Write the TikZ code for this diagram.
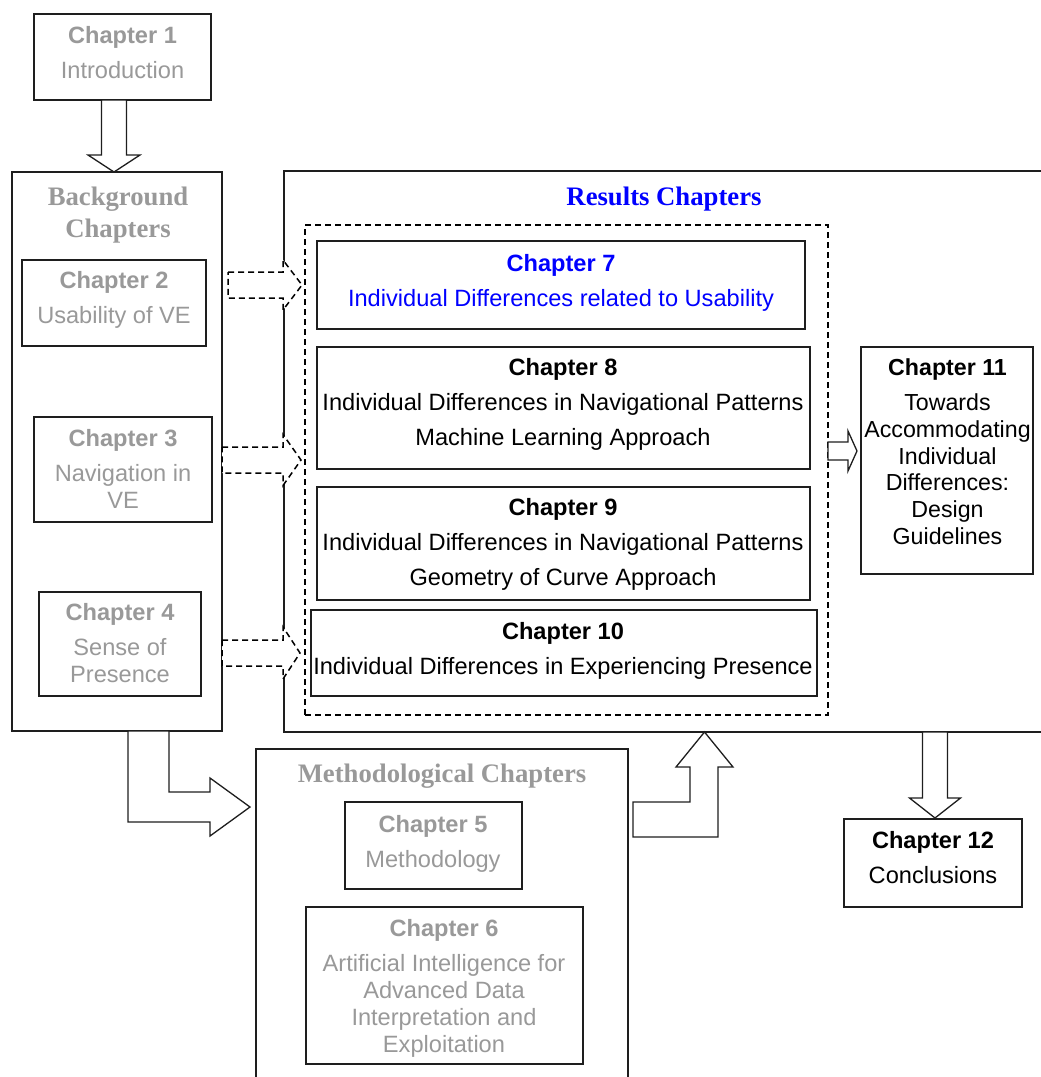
\documentclass[tikz,border=0pt]{standalone}
\usepackage{fontspec}
\setmainfont{Liberation Sans}
\newfontfamily\titlefont{Liberation Serif}
\usetikzlibrary{fit,calc}
\definecolor{fadedtext}{RGB}{153,153,153}
\definecolor{resultblue}{RGB}{0,0,255}
\definecolor{edge}{RGB}{30,30,30}

\begin{document}
\begin{tikzpicture}[x=1pt,y=-1pt,
  box/.style={draw=edge, line width=1.3pt, inner sep=0pt, outer sep=0pt, fill=white},
  dashframe/.style={draw=black, line width=1.5pt, dash pattern=on 6pt off 4pt, inner sep=0pt, outer sep=0pt},
  chtext/.style={anchor=north, inner sep=0pt, align=center, font=\fontsize{23.6}{26.8}\selectfont},
  grouptitle/.style={anchor=north, inner sep=0pt, align=center, font=\titlefont\bfseries\fontsize{26.7}{32}\selectfont},
  blockarrow/.style={draw=edge, line width=1.3pt, fill=white},
  dasharrow/.style={draw=black, line width=1.5pt, fill=white, dash pattern=on 6pt off 4pt},
]
\useasboundingbox (0,0) rectangle (1041,1077);
\clip (0,0) rectangle (1041,1077);

% group frames
\node[box, fit={(12,172) (222,731)}] (bg) {};
\node[box, fit={(284,171) (1060,732)}] (res) {};
\node[box, fit={(256,749) (628,1095)}] (meth) {};
\node[dashframe, fit={(305,225) (828,715)}] (inner) {};

% chapter boxes
\node[box, fit={(34,14) (211,100)}] (ch1) {};
\node[box, fit={(22,260) (206,346)}] (ch2) {};
\node[box, fit={(34,417) (212,522)}] (ch3) {};
\node[box, fit={(39,592) (201,696)}] (ch4) {};
\node[box, fit={(345,802) (522,889)}] (ch5) {};
\node[box, fit={(306,907) (583,1064)}] (ch6) {};
\node[box, fit={(317,241) (805,329)}] (ch7) {};
\node[box, fit={(317,347) (810,469)}] (ch8) {};
\node[box, fit={(317,487) (810,600)}] (ch9) {};
\node[box, fit={(311,610) (817,696)}] (ch10) {};
\node[box, fit={(861,347) (1033,574)}] (ch11) {};
\node[box, fit={(844,819) (1022,907)}] (ch12) {};

% group titles
\node[grouptitle, text=fadedtext] (bgtitle) at (118,186.5) {Background\\Chapters};
\node[grouptitle, text=resultblue] (restitle) at (664,186.5) {Results Chapters};
\node[grouptitle, text=fadedtext] (methtitle) at (442,763.5) {Methodological Chapters};

% chapter texts
\node[chtext, text=fadedtext] (t1) at (122.5,26.6) {\textbf{Chapter 1}\\[8pt]Introduction};
\node[chtext, text=fadedtext] (t2) at (114,271.6) {\textbf{Chapter 2}\\[8pt]Usability of VE};
\node[chtext, text=fadedtext] (t3) at (123,429.6) {\textbf{Chapter 3}\\[8pt]Navigation in\\VE};
\node[chtext, text=fadedtext] (t4) at (120,603.6) {\textbf{Chapter 4}\\[8pt]Sense of\\Presence};
\node[chtext, text=fadedtext] (t5) at (433,815.6) {\textbf{Chapter 5}\\[8pt]Methodology};
\node[chtext, text=fadedtext] (t6) at (444,919.6) {\textbf{Chapter 6}\\[8pt]Artificial Intelligence for\\Advanced Data\\Interpretation and\\Exploitation};
\node[chtext, text=resultblue] (t7) at (561,254.6) {\textbf{Chapter 7}\\[8pt]Individual Differences related to Usability};
\node[chtext] (t8) at (563,358.6) {\textbf{Chapter 8}\\[8pt]Individual Differences in Navigational Patterns\\[8pt]Machine Learning Approach};
\node[chtext] (t9) at (563,498.6) {\textbf{Chapter 9}\\[8pt]Individual Differences in Navigational Patterns\\[8pt]Geometry of Curve Approach};
\node[chtext] (t10) at (563,622.6) {\textbf{Chapter 10}\\[8pt]Individual Differences in Experiencing Presence};
\node[chtext, font=\fontsize{23.2}{26.8}\selectfont] (t11) at (947.5,358.6) {\textbf{Chapter 11}\\[8pt]Towards\\Accommodating\\Individual\\Differences:\\Design\\Guidelines};
\node[chtext] (t12) at (933,831.6) {\textbf{Chapter 12}\\[8pt]Conclusions};

% Chapter 1 -> background chapters
\coordinate (a1s) at (ch1.south -| 114,0);
\coordinate (a1e) at (bg.north -| 114,0);
\draw[blockarrow] ($(a1s)+(-12.5,0)$) -- ($(a1e)+(-12.5,-17)$) -- ($(a1e)+(-26,-17)$) -- (a1e)
  -- ($(a1e)+(26,-17)$) -- ($(a1e)+(12.5,-17)$) -- ($(a1s)+(12.5,0)$) -- cycle;

% background chapters -> results chapters (dashed)
\coordinate (d1s) at (bg.east |- 0,285);
\coordinate (d1e) at (inner.west |- 0,285);
\draw[dasharrow] ($(d1s)+(6,-13)$) -- ($(d1e)+(-22,-13)$) -- ($(d1e)+(-22,-25)$) -- ($(d1e)+(-3,0)$)
  -- ($(d1e)+(-22,25)$) -- ($(d1e)+(-22,13)$) -- ($(d1s)+(6,13)$) -- cycle;
\coordinate (d2s) at (bg.east |- 0,460);
\coordinate (d2e) at (inner.west |- 0,460);
\draw[dasharrow] ($(d2s)+(0,-13)$) -- ($(d2e)+(-22,-13)$) -- ($(d2e)+(-22,-25.5)$) -- ($(d2e)+(-4,0)$)
  -- ($(d2e)+(-22,25.5)$) -- ($(d2e)+(-22,13)$) -- ($(d2s)+(0,13)$) -- cycle;
\coordinate (d3s) at (bg.east |- 0,653);
\coordinate (d3e) at (inner.west |- 0,653);
\draw[dasharrow] ($(d3s)+(0,-13)$) -- ($(d3e)+(-22,-13)$) -- ($(d3e)+(-22,-26)$) -- ($(d3e)+(-5,0)$)
  -- ($(d3e)+(-22,26)$) -- ($(d3e)+(-22,13)$) -- ($(d3s)+(0,13)$) -- cycle;

% results chapters -> Chapter 11
\coordinate (a11s) at (inner.east |- 0,451);
\coordinate (a11e) at (ch11.west |- 0,451);
\draw[blockarrow] ($(a11s)+(0,-9)$) -- ($(a11e)+(-13,-9)$) -- ($(a11e)+(-13,-20)$) -- ($(a11e)+(-4,0)$)
  -- ($(a11e)+(-13,20)$) -- ($(a11e)+(-13,9)$) -- ($(a11s)+(0,9)$) -- cycle;

% results chapters -> Chapter 12
\coordinate (a12s) at (res.south -| 935,0);
\coordinate (a12e) at (ch12.north -| 935,0);
\draw[blockarrow] ($(a12s)+(-12.5,0)$) -- ($(a12e)+(-12.5,-21)$) -- ($(a12e)+(-25.5,-21)$) -- ($(a12e)+(0,-1)$)
  -- ($(a12e)+(25.5,-21)$) -- ($(a12e)+(12.5,-21)$) -- ($(a12s)+(12.5,0)$) -- cycle;

% background chapters -> methodological chapters (bent)
\coordinate (b1s) at (bg.south -| 148.5,0);
\coordinate (b1e) at (meth.west |- 0,807);
\draw[blockarrow] ($(b1s)+(-20.5,0)$) -- (128,822) -- (210,822) -- (210,836) -- ($(b1e)+(-6,0)$)
  -- (210,778) -- (210,792) -- (169,792) -- ($(b1s)+(20.5,0)$) -- cycle;

% methodological chapters -> results chapters (bent)
\coordinate (b2s) at (meth.east |- 0,819.5);
\coordinate (b2e) at (res.south -| 704.5,0);
\draw[blockarrow] ($(b2s)+(5,-17.5)$) -- (690,802) -- (690,767) -- (676,767) -- (b2e)
  -- (733,767) -- (718,767) -- (718,837) -- ($(b2s)+(5,17.5)$) -- cycle;
\end{tikzpicture}
\end{document}
